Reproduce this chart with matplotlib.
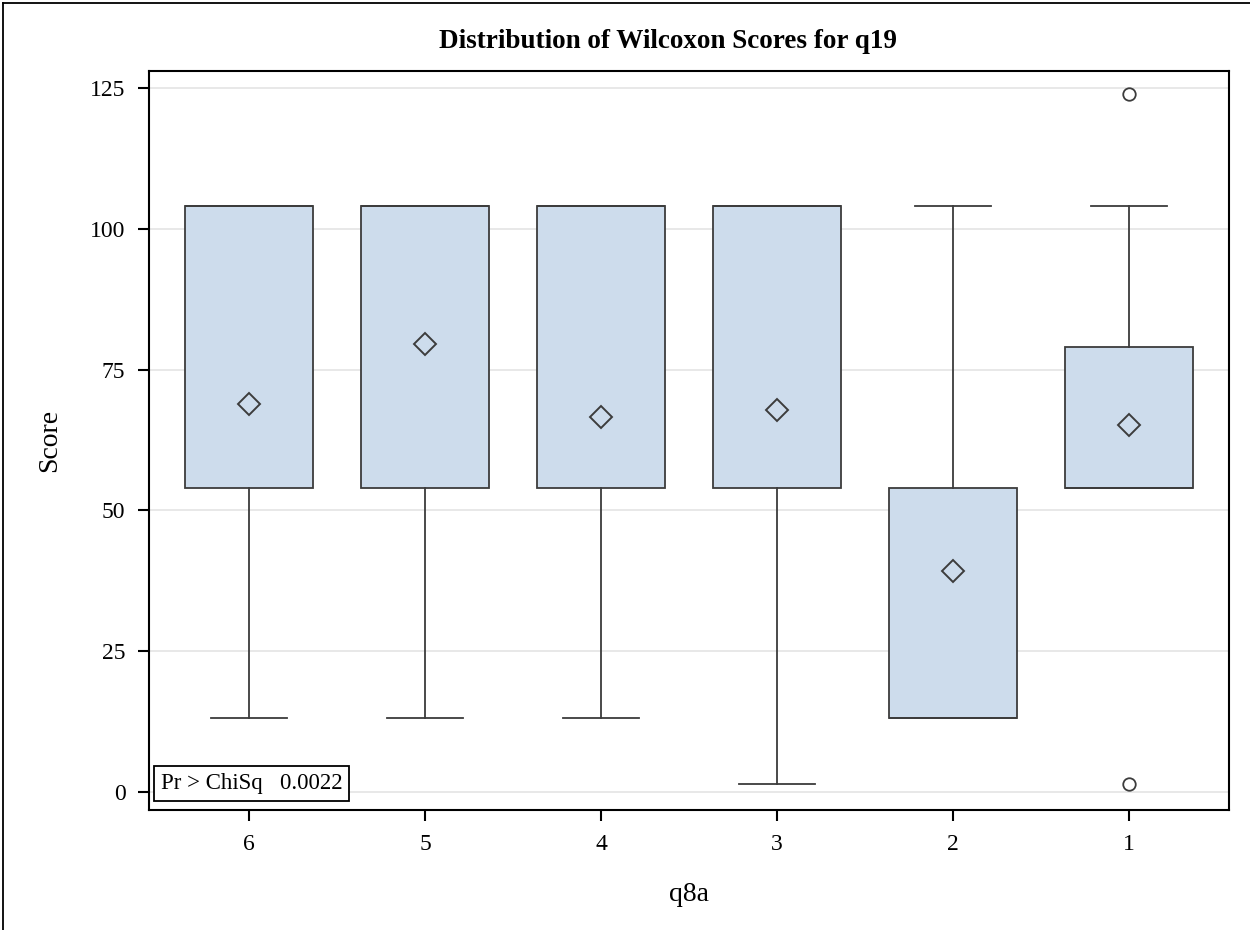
import matplotlib.pyplot as plt
from matplotlib.lines import Line2D

# groups of q8a, left to right
groups = ['6', '5', '4', '3', '2', '1']
whisker_low = [13.2, 13.2, 13.2, 1.4, 13.2, 54.0]
q1 = [54.0, 54.0, 54.0, 54.0, 13.2, 54.0]
median = [104.0, 104.0, 104.0, 104.0, 13.2, 54.0]
q3 = [104.0, 104.0, 104.0, 104.0, 54.0, 79.0]
whisker_high = [104.0, 104.0, 104.0, 104.0, 104.0, 104.0]
means = [68.9, 79.6, 66.6, 67.9, 39.3, 65.2]
outliers = [[], [], [], [], [], [123.9, 1.4]]

y_ticks = [0, 25, 50, 75, 100, 125]
p_value = 0.0022

plt.rcParams['font.family'] = ['Liberation Serif', 'DejaVu Serif']

fig = plt.figure(figsize=(12.5, 9.3), dpi=100)
ax = fig.add_axes([149 / 1250, 1 - 810 / 930, 1080 / 1250, 739 / 930])

stats = []
for i, g in enumerate(groups):
    stats.append(dict(label=g, whislo=whisker_low[i], q1=q1[i], med=median[i],
                      q3=q3[i], whishi=whisker_high[i], mean=means[i],
                      fliers=outliers[i]))

edge = '#3c3c3c'
ax.bxp(stats, positions=range(len(groups)), widths=0.727, patch_artist=True,
       showmeans=True, manage_ticks=False,
       boxprops=dict(facecolor='#cddcec', edgecolor=edge, linewidth=1.3),
       medianprops=dict(color=edge, linewidth=1.3),
       whiskerprops=dict(color=edge, linewidth=1.3),
       capprops=dict(color=edge, linewidth=1.3),
       capwidths=0.43,
       meanprops=dict(marker='D', markerfacecolor='none', markeredgecolor=edge,
                      markersize=11, markeredgewidth=1.4),
       flierprops=dict(marker='o', markerfacecolor='none', markeredgecolor=edge,
                       markersize=9, markeredgewidth=1.3))

ax.set_xlim(-0.568, 5.568)
ax.set_ylim(-3.2, 128.0)
ax.set_xticks(range(len(groups)))
ax.set_xticklabels(groups)
ax.set_yticks(y_ticks)
ax.yaxis.grid(True, color='#e6e6e6', linewidth=1.3)
ax.set_axisbelow(True)
for s in ax.spines.values():
    s.set_linewidth(1.5)
ax.tick_params(direction='out', length=8, width=1.5, labelsize=17, pad=9)

ax.set_xlabel('q8a', fontsize=20, labelpad=20)
ax.set_ylabel('Score', fontsize=20, labelpad=20)
fig.text(668 / 1250, 1 - 42 / 930,
         'Distribution of Wilcoxon Scores for q19',
         ha='center', va='center', fontsize=19.5, fontweight='bold')

ax.text(0.011, 0.022, f'Pr > ChiSq   {p_value:.4f}', transform=ax.transAxes,
        fontsize=16.5, ha='left', va='bottom',
        bbox=dict(boxstyle='square,pad=0.3', facecolor='white',
                  edgecolor='black', linewidth=1.3))

# outer frame edges (left and top)
fig.add_artist(Line2D([3 / 1250, 3 / 1250], [0, 1 - 3 / 930], color='black',
                      linewidth=1.3, transform=fig.transFigure))
fig.add_artist(Line2D([3 / 1250, 1], [1 - 3 / 930, 1 - 3 / 930], color='black',
                      linewidth=1.3, transform=fig.transFigure))

fig.savefig('out.png', dpi=100)
